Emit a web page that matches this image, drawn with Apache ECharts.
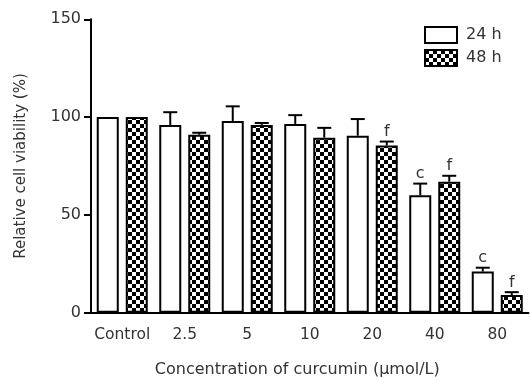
<!DOCTYPE html>
<html>
<head>
<meta charset="utf-8">
<script src="https://cdn.jsdelivr.net/npm/echarts@6/dist/echarts.min.js"></script>
<style>
  html, body { margin: 0; padding: 0; background: #fff; }
  #chart { width: 530px; height: 377px; }
</style>
</head>
<body>
<div id="chart"></div>
<script>
const categories = ['Control', '2.5', '5', '10', '20', '40', '80']
const yTicks = [0, 50, 100, 150]
const v24 = [100, 96, 98, 96.5, 90.5, 60, 21]
const e24 = [0, 6.5, 7.5, 4.5, 8.5, 6, 2]
const sig24 = ['', '', '', '', '', 'c', 'c']
const v48 = [100, 91, 96, 89.5, 85.5, 67, 9]
const e48 = [0, 1, 1, 5, 2, 3, 1.5]
const sig48 = ['', '', '', '', 'f', 'f', 'f']

const FONT = 'DejaVu Sans'
const TEXT = '#333'
const BAR_W = 22
const BAR_GAP = 7

// checker fill for 48 h
const checker = document.createElement('canvas')
checker.width = 8
checker.height = 8
const ctx = checker.getContext('2d')
ctx.fillStyle = '#fff'
ctx.fillRect(0, 0, 8, 8)
ctx.fillStyle = '#000'
ctx.fillRect(0, 0, 4, 4)
ctx.fillRect(4, 4, 4, 4)

function errorSeries(vals, errs, sigs, shift) {
  return {
    type: 'custom',
    silent: true,
    z: 3,
    data: vals.map((v, i) => [i, v, errs[i]]),
    renderItem(params, api) {
      const i = api.value(0)
      const v = api.value(1)
      const e = api.value(2)
      const top = api.coord([i, v])
      const cap = api.coord([i, v + e])
      const x = top[0] + shift
      const children = []
      if (e > 0) {
        children.push({
          type: 'line',
          shape: { x1: x, y1: top[1], x2: x, y2: cap[1] },
          style: { stroke: '#000', lineWidth: 2 }
        }, {
          type: 'line',
          shape: { x1: x - 7, y1: cap[1], x2: x + 7, y2: cap[1] },
          style: { stroke: '#000', lineWidth: 2 }
        })
      }
      const s = sigs[params.dataIndex]
      if (s) {
        children.push({
          type: 'text',
          style: {
            x: x,
            y: cap[1] - 1.5,
            text: s,
            fill: TEXT,
            font: '16px ' + FONT,
            textAlign: 'center',
            textVerticalAlign: 'bottom'
          }
        })
      }
      return { type: 'group', children }
    }
  }
}

const chart = echarts.init(document.getElementById('chart'))
chart.setOption({
  animation: false,
  grid: {
    left: 91,
    right: 1.5,
    top: 19.3,
    bottom: 64.3,
    outerBoundsMode: 'none'
  },
  legend: {
    orient: 'vertical',
    left: 424,
    top: 26,
    padding: 0,
    itemWidth: 32,
    itemHeight: 16,
    itemGap: 5,
    icon: 'rect',
    textStyle: { fontFamily: FONT, fontSize: 16, color: TEXT, padding: [0, 0, 0, 4] },
    data: ['24 h', '48 h']
  },
  xAxis: {
    type: 'category',
    data: categories,
    name: 'Concentration of curcumin (μmol/L)',
    nameLocation: 'middle',
    nameGap: 49,
    nameTextStyle: { fontFamily: FONT, fontSize: 16, color: TEXT, padding: [0, 25, 0, 0] },
    axisLine: { lineStyle: { color: '#000', width: 2 } },
    axisTick: { alignWithLabel: true, interval: 0, length: 8, lineStyle: { color: '#000', width: 2 } },
    axisLabel: { interval: 0, fontFamily: FONT, fontSize: 15.5, color: TEXT, margin: 14 }
  },
  yAxis: {
    type: 'value',
    min: yTicks[0],
    max: yTicks[yTicks.length - 1],
    interval: yTicks[1] - yTicks[0],
    name: 'Relative cell viability (%)',
    nameLocation: 'middle',
    nameRotate: 90,
    nameGap: 62,
    nameTextStyle: { fontFamily: FONT, fontSize: 15, color: TEXT },
    splitLine: { show: false },
    axisLine: { show: true, lineStyle: { color: '#000', width: 2 } },
    axisTick: { show: true, length: 7, lineStyle: { color: '#000', width: 2 } },
    axisLabel: { fontFamily: FONT, fontSize: 16, color: TEXT, margin: 10 }
  },
  series: [
    {
      name: '24 h',
      type: 'bar',
      data: v24,
      barWidth: BAR_W,
      barGap: (BAR_GAP / BAR_W * 100) + '%',
      itemStyle: { color: '#fff', borderColor: '#000', borderWidth: 2 }
    },
    {
      name: '48 h',
      type: 'bar',
      data: v48,
      barWidth: BAR_W,
      itemStyle: { color: { image: checker, repeat: 'repeat' }, borderColor: '#000', borderWidth: 2 }
    },
    errorSeries(v24, e24, sig24, -(BAR_W + BAR_GAP) / 2),
    errorSeries(v48, e48, sig48, (BAR_W + BAR_GAP) / 2)
  ]
})
</script>
</body>
</html>
